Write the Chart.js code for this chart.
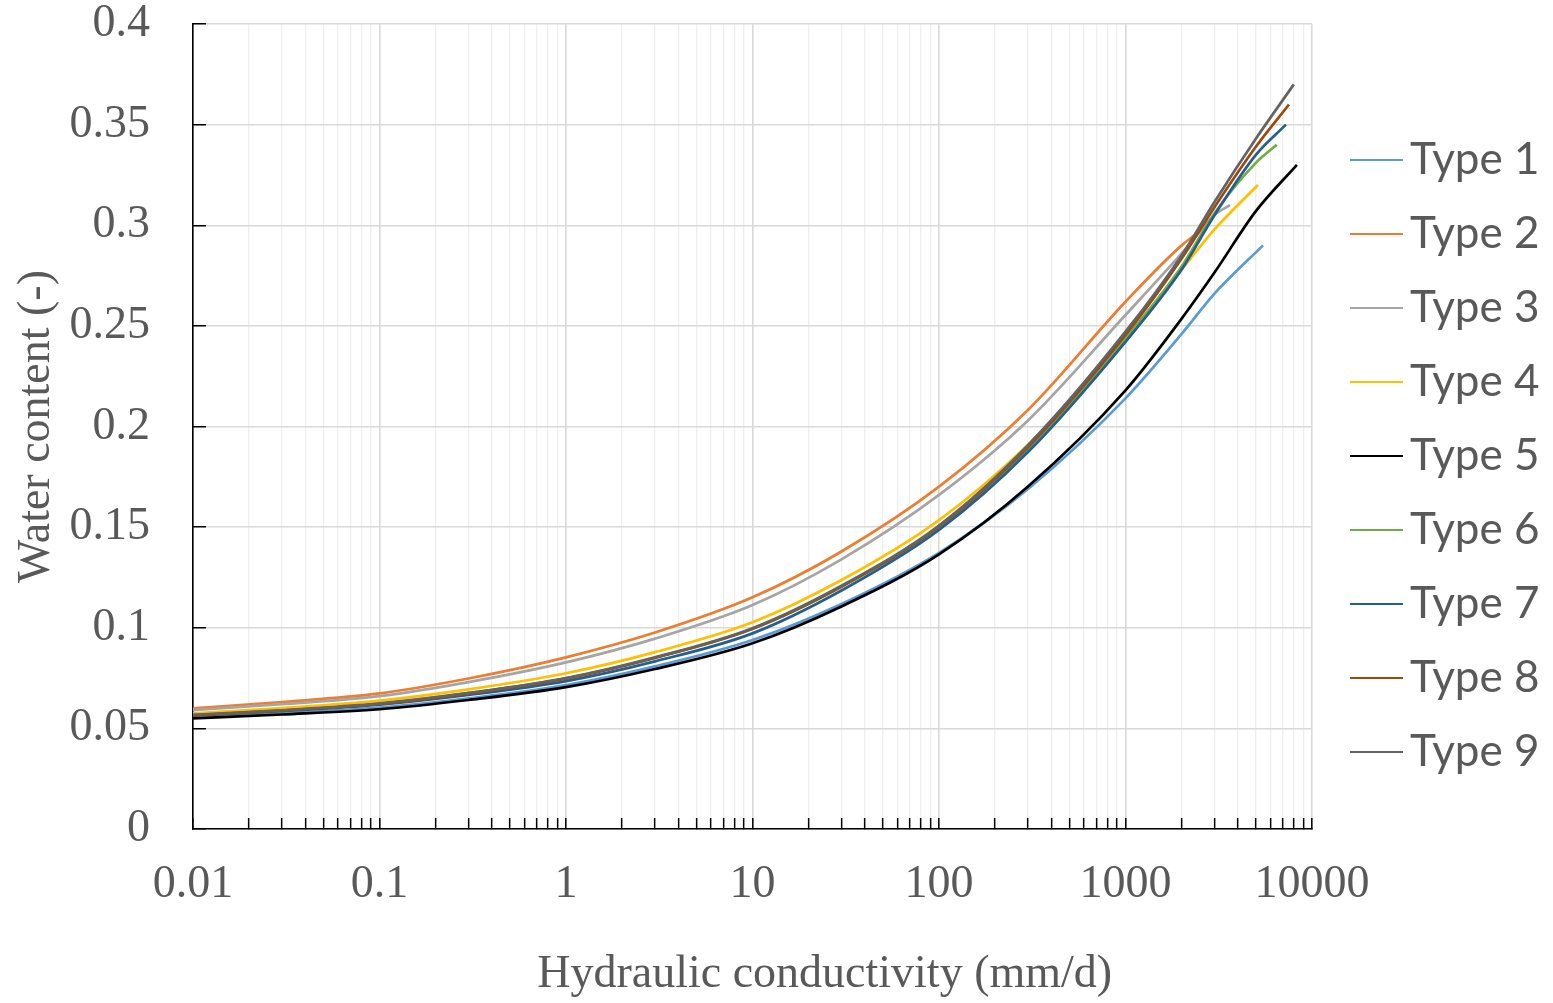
<!DOCTYPE html>
<html>
<head>
<meta charset="utf-8">
<script src="https://cdn.jsdelivr.net/npm/chart.js@4.4.1/dist/chart.umd.min.js"></script>
<style>
html,body{margin:0;padding:0;background:#ffffff;}
canvas{display:block;}
</style>
</head>
<body>
<canvas id="c" width="1553" height="1003"></canvas>
<script>
// ---------------- data ----------------
const seriesNames = ['Type 1','Type 2','Type 3','Type 4','Type 5','Type 6','Type 7','Type 8','Type 9'];
const seriesColors = ['#5b9bd5','#ed7d31','#a5a5a5','#ffc000','#000000','#70ad47','#255e91','#9e480e','#636363'];

// hydraulic conductivity (mm/d) sample points
const conductivity = [0.01, 0.03, 0.1, 0.3, 1, 3, 10, 30, 100, 300, 1000, 2000, 3000, 5000];

// water content (-) at each sample point (null = beyond the curve's end)
const type1 = [0.0555,0.0575,0.0603,0.0649,0.0715,0.0808,0.0939,0.1118,0.1372,0.1690,0.2140,0.2460,0.2660,null];
const type2 = [0.0600,0.0631,0.0674,0.0748,0.0853,0.0976,0.1151,0.1379,0.1701,0.2082,0.2620,0.2900,null,null];
const type3 = [0.0591,0.0620,0.0660,0.0730,0.0828,0.0946,0.1113,0.1340,0.1660,0.2030,0.2554,0.2860,0.3050,null];
const type4 = [0.0575,0.0601,0.0638,0.0694,0.0774,0.0879,0.1027,0.1237,0.1535,0.1910,0.2438,0.2780,0.2980,null];
const type5 = [0.0550,0.0569,0.0595,0.0641,0.0705,0.0795,0.0923,0.1106,0.1365,0.1702,0.2180,0.2536,0.2765,0.3070];
const type6 = [0.0565,0.0589,0.0622,0.0675,0.0749,0.0851,0.0995,0.1204,0.1500,0.1889,0.2438,0.2795,0.3060,0.3310];
const type7 = [0.0563,0.0586,0.0618,0.0666,0.0735,0.0833,0.0972,0.1185,0.1486,0.1873,0.2421,0.2780,0.3050,0.3350];
const type8 = [0.0565,0.0588,0.0621,0.0673,0.0747,0.0850,0.0995,0.1205,0.1503,0.1897,0.2455,0.2835,0.3090,0.3390];
const type9 = [0.0567,0.0590,0.0624,0.0676,0.0750,0.0853,0.0998,0.1209,0.1508,0.1907,0.2471,0.2850,0.3116,0.3430];
const seriesValues = [type1,type2,type3,type4,type5,type6,type7,type8,type9];

// end of each curve: saturated conductivity (mm/d) and saturated water content (-)
const endConductivity = [5460, 2770, 3630, 5130, 8300, 6470, 7250, 7530, 7990];
const saturatedContent = [0.29, 0.30, 0.31, 0.32, 0.33, 0.34, 0.35, 0.36, 0.37];

// axis ticks / labels
const xDecades = [0.01, 0.1, 1, 10, 100, 1000];
const xTickLabels = ['0.01','0.1','1','10','100','1000','10000'];
const yTickLabels = ['0','0.05','0.1','0.15','0.2','0.25','0.3','0.35','0.4'];
const xAxisTitle = 'Hydraulic conductivity (mm/d)';
const yAxisTitle = 'Water content (-)';

// ---------------- styling / layout ----------------
const textGray = '#595959';
const serif = 'Liberation Serif';
const legendFontSize = 44, legendPad = 30, legendBoxW = 46;
const plotLeft = 193, plotRight = 1312, plotTop = 24, plotBottom = 829;
const W = 1553, H = 1003;

const xTicks = [];
xDecades.forEach(d => { for (let m = 1; m <= 9; m++) xTicks.push(+(m * d).toPrecision(3)); });
xTicks.push(10000);
const isDecade = v => Math.abs(Math.log10(v) - Math.round(Math.log10(v))) < 1e-9;

function legendLine(color) {
  const c = document.createElement('canvas');
  c.width = 76; c.height = 6;
  const g = c.getContext('2d');
  g.strokeStyle = color; g.lineWidth = 2.2;
  g.beginPath(); g.moveTo(23, 3); g.lineTo(76, 3); g.stroke();
  return c;
}

const mctx = document.createElement('canvas').getContext('2d');
mctx.font = 'normal ' + legendFontSize + 'px Lato';
const maxTextW = Math.max(...seriesNames.map(n => mctx.measureText(n).width));
const legendWidth = legendPad + legendBoxW + legendFontSize / 2 + maxTextW + 10;
const padRight = Math.max(0, W - plotRight - legendWidth);

const datasets = seriesNames.map((name, i) => {
  const pts = [];
  conductivity.forEach((k, j) => { const v = seriesValues[i][j]; if (v !== null) pts.push({x: k, y: v}); });
  pts.push({x: endConductivity[i], y: saturatedContent[i]});
  return {
    label: name,
    data: pts,
    borderColor: seriesColors[i],
    backgroundColor: seriesColors[i],
    borderWidth: 2.7,
    pointRadius: 0,
    pointHoverRadius: 0,
    pointStyle: legendLine(seriesColors[i]),
    showLine: true,
    cubicInterpolationMode: 'monotone',
    order: seriesNames.length - i
  };
});

const xTitlePlugin = {
  id: 'xTitle',
  afterDraw(chart) {
    const {ctx, chartArea: a} = chart;
    ctx.save();
    ctx.font = '46px "' + serif + '"';
    ctx.fillStyle = textGray;
    ctx.textAlign = 'center';
    ctx.textBaseline = 'middle';
    ctx.fillText(xAxisTitle, a.left + (a.right - a.left) * 0.5645, a.bottom + 146);
    ctx.restore();
  }
};

new Chart(document.getElementById('c'), {
  type: 'scatter',
  data: {datasets},
  plugins: [xTitlePlugin],
  options: {
    responsive: false,
    animation: false,
    events: [],
    layout: {padding: {top: plotTop, right: padRight, bottom: 0, left: 0}},
    plugins: {
      tooltip: {enabled: false},
      legend: {
        position: 'right',
        align: 'start',
        title: {display: true, text: '', padding: {top: 64, bottom: 0}, font: {size: 20, lineHeight: 1}},
        labels: {
          usePointStyle: true,
          pointStyleWidth: legendBoxW,
          padding: legendPad,
          color: textGray,
          font: {family: 'Lato', size: legendFontSize},
          sort: (a, b) => a.datasetIndex - b.datasetIndex
        }
      }
    },
    scales: {
      x: {
        type: 'logarithmic',
        min: 0.01,
        max: 10000,
        afterBuildTicks: s => { s.ticks = xTicks.map(v => ({value: v})); },
        afterFit: s => { s.height = H - plotBottom; },
        ticks: {
          autoSkip: false,
          maxRotation: 0,
          padding: 39,
          color: textGray,
          font: {family: serif, size: 46},
          callback: v => isDecade(v) ? xTickLabels[Math.round(Math.log10(v)) + 2] : ''
        },
        grid: {
          color: c => (c.tick && isDecade(c.tick.value)) ? '#d9d9d9' : '#efefef',
          lineWidth: c => (c.tick && isDecade(c.tick.value)) ? 1.6 : 1.3,
          tickLength: -11,
          tickColor: '#000000',
          tickWidth: 1.5
        },
        border: {color: '#000000', width: 1.6},
        title: {display: false}
      },
      y: {
        type: 'linear',
        min: 0,
        max: 0.4,
        afterFit: s => { s.width = plotLeft; s.paddingTop = 0; s.paddingBottom = 0; },
        ticks: {
          stepSize: 0.05,
          padding: 56,
          color: textGray,
          font: {family: serif, size: 46, lineHeight: 1},
          callback: (v, i) => yTickLabels[i]
        },
        grid: {
          color: '#d9d9d9',
          lineWidth: 1.5,
          tickLength: -13,
          tickColor: '#000000',
          tickWidth: 1.5
        },
        border: {color: '#000000', width: 1.6},
        title: {
          display: true,
          text: yAxisTitle,
          color: textGray,
          font: {family: serif, size: 46},
          padding: {top: 9, bottom: 0}
        }
      }
    }
  }
});
</script>
</body>
</html>
